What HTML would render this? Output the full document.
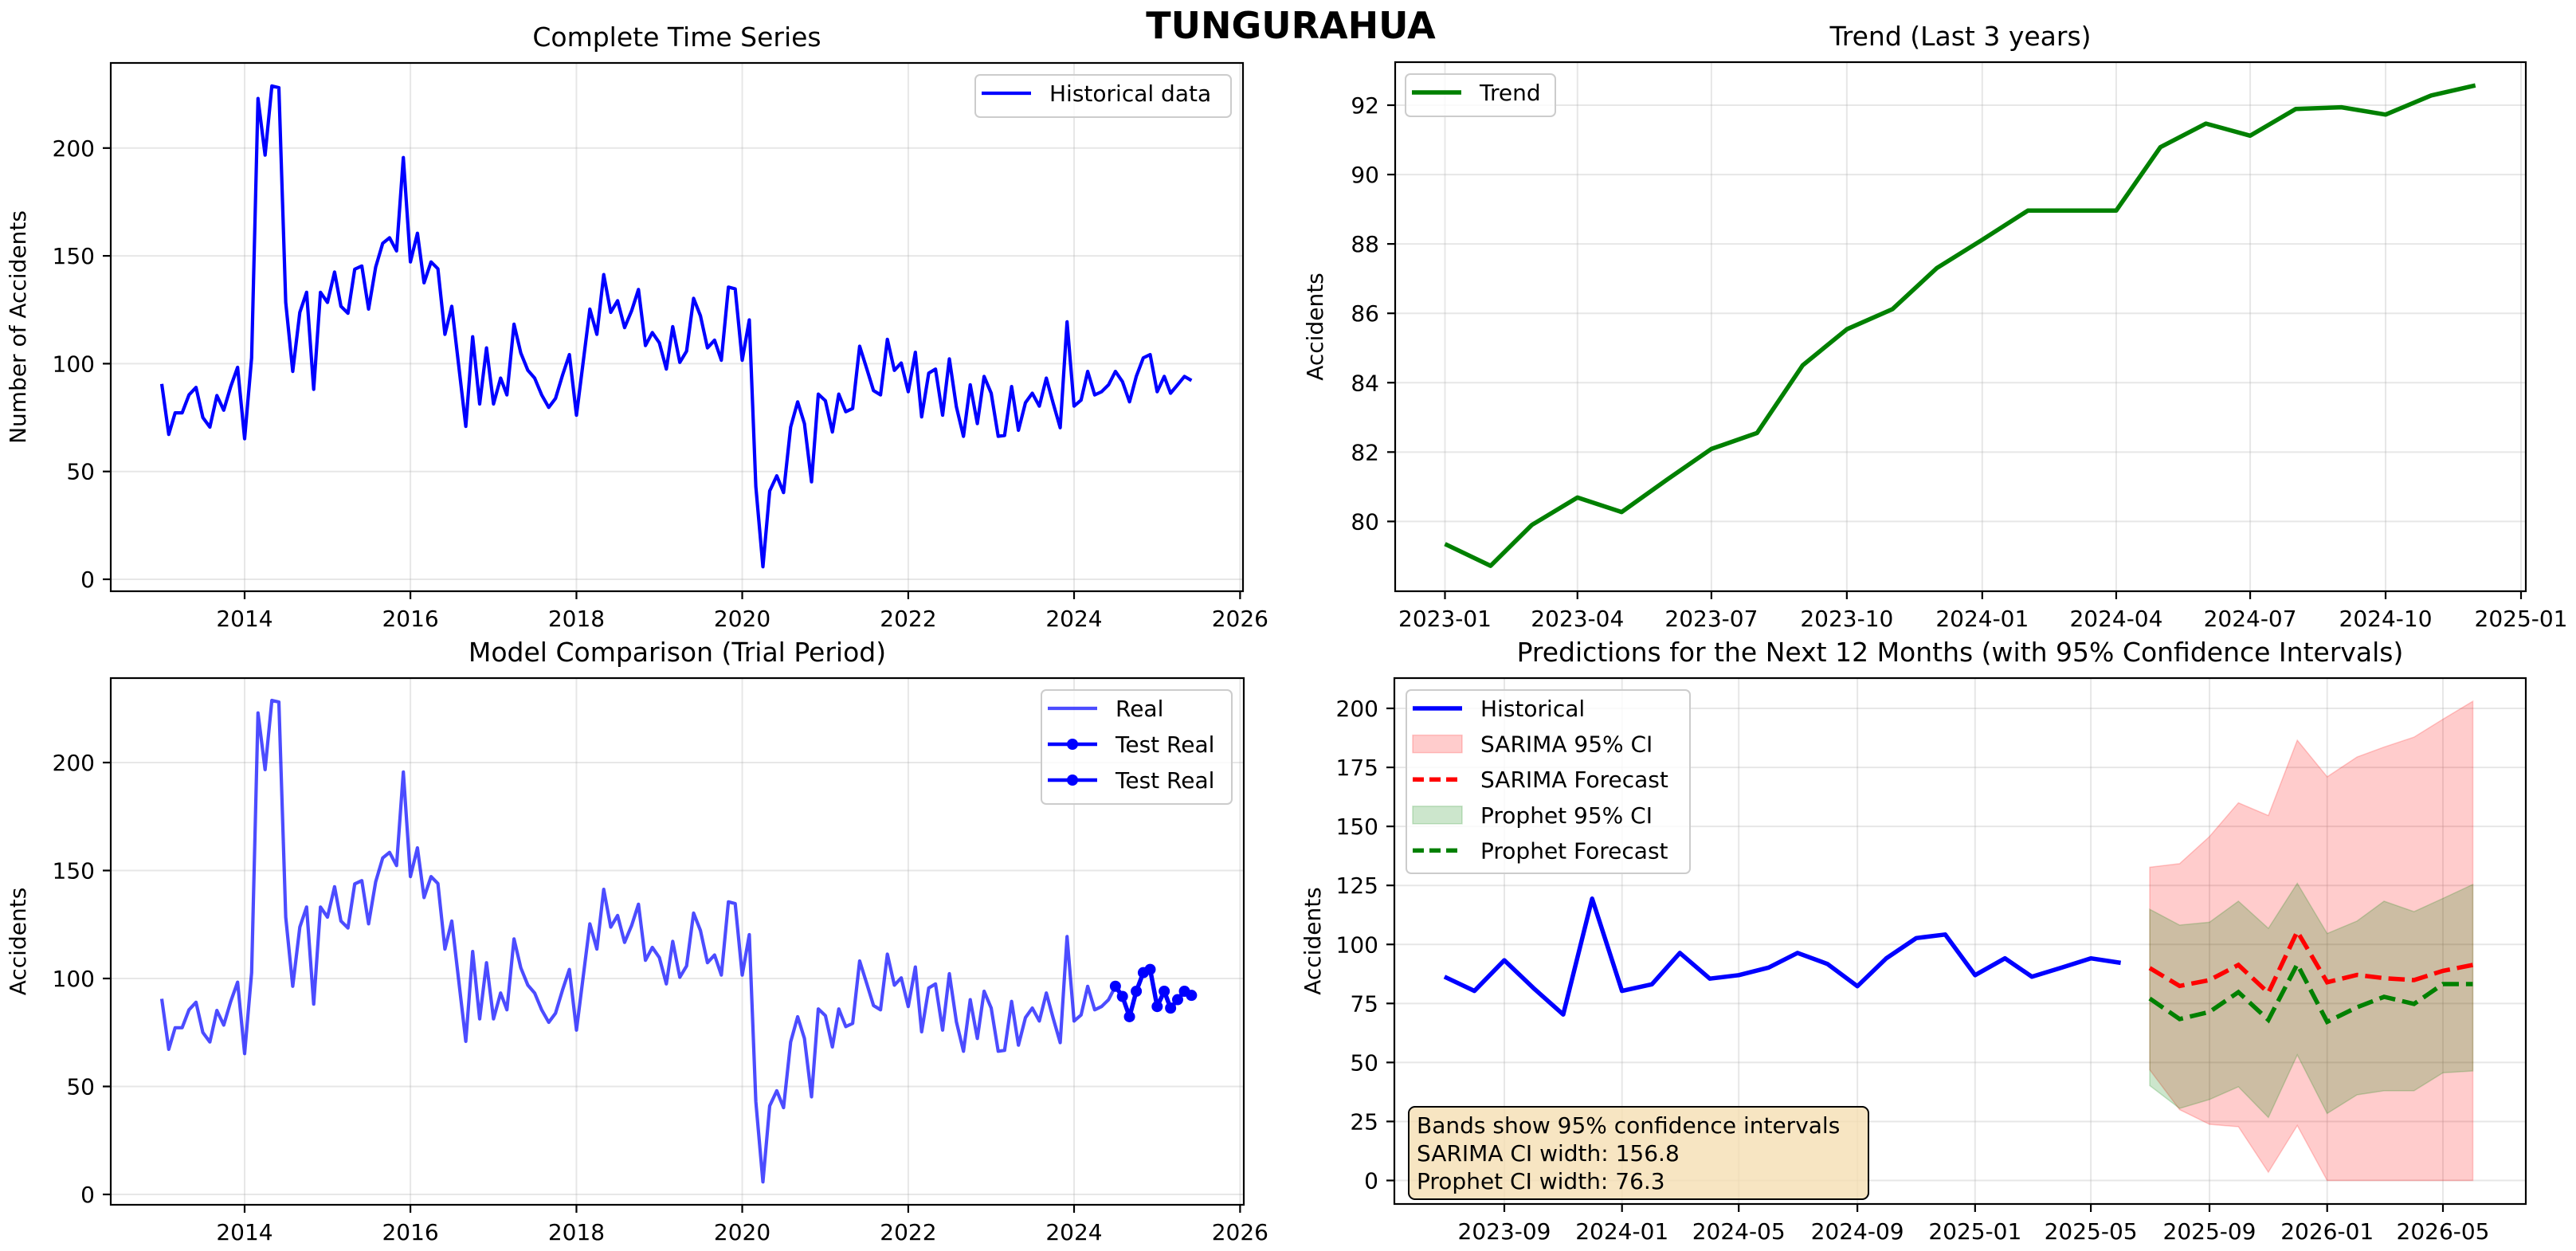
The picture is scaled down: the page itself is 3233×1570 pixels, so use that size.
<!DOCTYPE html>
<html><head><meta charset="utf-8"><style>
html,body{margin:0;padding:0;background:#fff;}
svg text{font-family:"DejaVu Sans","Liberation Sans",sans-serif;fill:#000;}
</style></head><body>
<svg id="fig" xmlns="http://www.w3.org/2000/svg" width="3233" height="1565" viewBox="0 0 3233 1565">
<rect width="3233" height="1565" fill="#fff"/>
<text x="1620" y="48" font-size="46" font-weight="bold" text-anchor="middle">TUNGURAHUA</text>
</svg>
<script>
// ---------- DATA ----------
const seriesStart = [2013, 1];
const accidents = [
90.6,67.2,77.2,77.2,85.5,89,75,70.6,85.2,78.4,89.4,98.3,
65.2,102.7,223,196.7,228.8,228,128.4,96.4,123.8,133.1,88.1,133.1,
128.4,142.5,126.6,123.4,143.8,145.3,125.3,144.8,155.8,158.4,152.3,195.6,
147.2,160.5,137.5,147.2,144,113.6,126.6,98.8,70.9,112.5,81.3,107.3,
81.3,93.3,85.5,118.3,105,96.9,93.3,85.5,79.7,83.9,94.8,104.2,
76.1,101.9,125.3,113.6,141.3,123.8,129.2,116.7,124.5,134.4,108.4,114.4,
109.7,97.5,117.2,100.6,105.8,130.3,122.2,107.3,110.9,101.6,135.5,134.7,
101.6,120.3,43,5.8,41,48,40.2,70.6,82.3,72.2,45.2,85.9,
82.8,68.3,85.9,77.7,79.2,108.1,98,87.5,85.5,111.3,96.9,100.3,
87,105.3,75.3,95.6,97.5,76.1,102.2,80,66.3,90.2,72.2,94.1,
86.3,66.3,66.7,89.4,69.1,81.9,86.3,80.3,93.3,81.6,70.3,119.4,
80.3,83.1,96.4,85.5,87,90.2,96.4,91.7,82.3,94.1,102.7,104.2,
87,94.1,86.3,90.2,94.1,92.2];
const testCount = 12;
const trendStart = [2023, 1];
const trendValues = [79.35,78.72,79.9,80.69,80.27,81.21,82.09,82.55,84.5,85.54,86.12,87.3,
88.12,88.96,88.96,88.96,90.79,91.47,91.12,91.89,91.94,91.73,92.28,92.57];
const histCount = 24;
const forecastStart = [2025, 7];
const sarimaForecast = [90,82.4,84.9,91.3,79.5,105.5,84,87.1,85.7,84.9,88.8,91.3];
const sarimaUpper = [132.7,134.2,145.7,160,154.6,186.5,171,179.4,183.6,187.8,195.4,203];
const sarimaLower = [46.9,30,23.8,22.8,3.5,23.3,0,0,0,0,0,0];
const prophetForecast = [77.1,68.4,71.4,79.8,68,91.6,67.2,73.4,77.8,74.8,83.2,83.2];
const prophetUpper = [114.9,108.2,109.4,118.3,106.8,125.9,104.6,109.9,118.3,113.9,119.5,125.4];
const prophetLower = [40.2,30.5,34.3,39.7,26.7,53.2,28.4,36.3,38,38,45.6,46.4];
const yearTicks = [2014,2016,2018,2020,2022,2024,2026];
const countTicks = [0,50,100,150,200];
const trendXTicks = ["2023-01","2023-04","2023-07","2023-10","2024-01","2024-04","2024-07","2024-10","2025-01"];
const trendYTicks = [80,82,84,86,88,90,92];
const fcXTicks = ["2023-09","2024-01","2024-05","2024-09","2025-01","2025-05","2025-09","2026-01","2026-05"];
const fcYTicks = [0,25,50,75,100,125,150,175,200];
const ciText = ["Bands show 95% confidence intervals","SARIMA CI width: 156.8","Prophet CI width: 76.3"];

// ---------- HELPERS ----------
const NS = "http://www.w3.org/2000/svg";
const svg = document.getElementById('fig');
function D(y,m){return Date.UTC(y,m-1,1)/864e5;}
function monthDate(start,i){let m=start[1]-1+i;return D(start[0]+Math.floor(m/12),(m%12)+1);}
function lin(d0,d1,r0,r1){return v=>r0+(v-d0)*(r1-r0)/(d1-d0);}
function el(tag,attrs,parent){const e=document.createElementNS(NS,tag);for(const k in attrs)e.setAttribute(k,attrs[k]);(parent||svg).appendChild(e);return e;}
function txt(s,attrs,parent){const e=el('text',attrs,parent);e.textContent=s;return e;}
function pathFrom(xs,ys){return xs.map((x,i)=>(i?'L':'M')+x.toFixed(1)+','+ys[i].toFixed(1)).join('');}

function panel(id,box,xs,ys,xticks,yticks,title,ylabel,ylabelX){
  const g=el('g',{});
  
  
  const cp=el('clipPath',{id:id+'-clip'},g);
  el('rect',{x:box.x0,y:box.y0,width:box.x1-box.x0,height:box.y1-box.y0},cp);
  const grid=el('g',{},g);
  
  
  xticks.forEach(t=>{const x=xs(t.v);el('line',{x1:x,x2:x,y1:box.y0,y2:box.y1,stroke:'#b0b0b0','stroke-opacity':0.3,'stroke-width':2},grid);});
  yticks.forEach(t=>{const y=ys(t.v);el('line',{x1:box.x0,x2:box.x1,y1:y,y2:y,stroke:'#b0b0b0','stroke-opacity':0.3,'stroke-width':2},grid);});
  const plot=el('g',{'clip-path':'url(#'+id+'-clip)'},g);
  const ax=el('g',{},g);
  
  
  el('rect',{x:box.x0,y:box.y0,width:box.x1-box.x0,height:box.y1-box.y0,fill:'none',stroke:'#000','stroke-width':2.2},ax);
  xticks.forEach(t=>{const x=xs(t.v);el('line',{x1:x,x2:x,y1:box.y1,y2:box.y1+10,stroke:'#000','stroke-width':2.2},ax);
    const l=txt(t.l,{x:x,y:box.y1+44,'font-size':28,'text-anchor':'middle'},ax);
    
    });
  yticks.forEach(t=>{const y=ys(t.v);el('line',{x1:box.x0-10,x2:box.x0,y1:y,y2:y,stroke:'#000','stroke-width':2.2},ax);
    const l=txt(t.l,{x:box.x0-20,y:y+10,'font-size':28,'text-anchor':'end'},ax);
    
    });
  const tt=txt(title,{x:(box.x0+box.x1)/2,y:box.y0-21,'font-size':33,'text-anchor':'middle'},g);
  
  
  const cy=(box.y0+box.y1)/2;
  const yl=txt(ylabel,{x:ylabelX,y:cy,'font-size':28,'text-anchor':'middle',transform:'rotate(-90 '+ylabelX+' '+cy+')'},g);
  
  
  return plot;
}
function legend(id,x,y,w,h,rowH,entries){
  const g=el('g',{});
  
  
  el('rect',{x:x,y:y,width:w,height:h,rx:6,fill:'#fff','fill-opacity':0.8,stroke:'#cccccc','stroke-width':2},g);
  entries.forEach((e,i)=>{
    const cy=y+23+i*rowH;
    const eg=el('g',{},g);
    
    
    if(e.type==='patch'){el('rect',{x:x+8,y:cy-11,width:62,height:22,fill:e.fill,stroke:e.stroke,'stroke-width':1.5},eg);}
    else{el('line',{x1:x+8,x2:x+70,y1:cy,y2:cy,stroke:e.color,'stroke-width':e.w,'stroke-dasharray':e.dash||'none','stroke-opacity':e.op||1},eg);
      if(e.marker)el('circle',{cx:x+39,cy:cy,r:7,fill:e.color},eg);}
    txt(e.label,{x:x+93,y:cy+10,'font-size':28},eg);
  });
}

// ---------- PANEL 1 ----------
(function(){
  const box={x0:139,x1:1560,y0:79,y1:742};
  const xs=lin(D(2014,1),D(2024,1),307,1348);
  const ys=lin(0,200,727,185.8);
  const p=panel('complete-series-panel',box,xs,ys,yearTicks.map(y=>({v:D(y,1),l:String(y)})),countTicks.map(v=>({v:v,l:String(v)})),'Complete Time Series','Number of Accidents',32);
  const X=accidents.map((v,i)=>xs(monthDate(seriesStart,i))),Y=accidents.map(v=>ys(v));
  const line=el('path',{d:pathFrom(X,Y),fill:'none',stroke:'#0000ff','stroke-width':4.2,'stroke-linejoin':'round'},p);
  
  
  legend('complete-series-legend',1224,94,321,53,45,[{label:'Historical data',color:'#0000ff',w:4.2}]);
})();

// ---------- PANEL 2 ----------
(function(){
  const box={x0:1751,x1:3170,y0:78,y1:742};
  const xs=lin(D(2023,1),D(2025,1),1813.5,3164);
  const ys=lin(80,92,654.4,132);
  const p=panel('trend-panel',box,xs,ys,trendXTicks.map(s=>{const a=s.split('-');return{v:D(+a[0],+a[1]),l:s};}),trendYTicks.map(v=>({v:v,l:String(v)})),'Trend (Last 3 years)','Accidents',1660);
  const X=trendValues.map((v,i)=>xs(monthDate(trendStart,i))),Y=trendValues.map(v=>ys(v));
  const line=el('path',{d:pathFrom(X,Y),fill:'none',stroke:'#008000','stroke-width':5.5,'stroke-linejoin':'round'},p);
  
  
  legend('trend-legend',1764,93,188,53,45,[{label:'Trend',color:'#008000',w:5.5}]);
})();

// ---------- PANEL 3 ----------
(function(){
  const box={x0:139,x1:1561,y0:851,y1:1512};
  const xs=lin(D(2014,1),D(2024,1),307,1348);
  const ys=lin(0,100,1499,1228);
  const p=panel('model-comparison-panel',box,xs,ys,yearTicks.map(y=>({v:D(y,1),l:String(y)})),countTicks.map(v=>({v:v,l:String(v)})),'Model Comparison (Trial Period)','Accidents',32);
  const X=accidents.map((v,i)=>xs(monthDate(seriesStart,i))),Y=accidents.map(v=>ys(v));
  const real=el('path',{d:pathFrom(X,Y),fill:'none',stroke:'#0000ff','stroke-opacity':0.7,'stroke-width':4.2,'stroke-linejoin':'round'},p);
  
  
  const n=accidents.length, s=n-testCount;
  const tx=X.slice(s),ty=Y.slice(s);
  const test=el('path',{d:pathFrom(tx,ty),fill:'none',stroke:'#0000ff','stroke-width':5.5,'stroke-linejoin':'round'},p);
  
  
  tx.forEach((x,i)=>{const c=el('circle',{cx:x,cy:ty[i],r:7,fill:'#0000ff'},p);
    
    });
  legend('model-comparison-legend',1307,866,239,143,45,[
    {label:'Real',color:'#0000ff',w:4.2,op:0.7},
    {label:'Test Real',color:'#0000ff',w:4.5,marker:true},
    {label:'Test Real',color:'#0000ff',w:4.5,marker:true}]);
})();

// ---------- PANEL 4 ----------
(function(){
  const box={x0:1750,x1:3170,y0:851,y1:1511};
  const xs=lin(D(2023,9),D(2026,5),1888,3066);
  const ys=lin(0,200,1481.5,889);
  const p=panel('forecast-panel',box,xs,ys,fcXTicks.map(s=>{const a=s.split('-');return{v:D(+a[0],+a[1]),l:s};}),fcYTicks.map(v=>({v:v,l:String(v)})),'Predictions for the Next 12 Months (with 95% Confidence Intervals)','Accidents',1657);
  const hist=accidents.slice(accidents.length-histCount);
  const n=accidents.length;
  const HX=hist.map((v,i)=>xs(monthDate(seriesStart,n-histCount+i))),HY=hist.map(v=>ys(v));
  const FX=sarimaForecast.map((v,i)=>xs(monthDate(forecastStart,i)));
  function band(up,lo,fill,stroke,name){
    const d=pathFrom(FX,up.map(ys))+FX.slice().reverse().map((x,i)=>'L'+x.toFixed(1)+','+ys(lo[lo.length-1-i]).toFixed(1)).join('')+'Z';
    const b=el('path',{d:d,fill:fill,stroke:stroke,'stroke-width':1.5},p);
    
    
  }
  band(sarimaUpper,sarimaLower,'rgba(255,0,0,0.2)','rgba(255,0,0,0.2)','sarima-ci-band');
  band(prophetUpper,prophetLower,'rgba(0,128,0,0.2)','rgba(0,128,0,0.2)','prophet-ci-band');
  const h=el('path',{d:pathFrom(HX,HY),fill:'none',stroke:'#0000ff','stroke-width':5.5,'stroke-linejoin':'round'},p);
  
  
  const sf=el('path',{d:pathFrom(FX,sarimaForecast.map(ys)),fill:'none',stroke:'#ff0000','stroke-width':5.5,'stroke-dasharray':'20.5 8.9'},p);
  
  
  const pf=el('path',{d:pathFrom(FX,prophetForecast.map(ys)),fill:'none',stroke:'#008000','stroke-width':5.5,'stroke-dasharray':'20.5 8.9'},p);
  
  
  legend('forecast-legend',1765,866,356,230,44.6,[
    {label:'Historical',color:'#0000ff',w:5.5},
    {type:'patch',label:'SARIMA 95% CI',fill:'rgba(255,0,0,0.2)',stroke:'rgba(255,0,0,0.2)'},
    {label:'SARIMA Forecast',color:'#ff0000',w:5.5,dash:'14 7'},
    {type:'patch',label:'Prophet 95% CI',fill:'rgba(0,128,0,0.2)',stroke:'rgba(0,128,0,0.2)'},
    {label:'Prophet Forecast',color:'#008000',w:5.5,dash:'14 7'}]);
  const tb=el('g',{});
  
  
  el('rect',{x:1768,y:1389,width:577,height:116,rx:8,fill:'rgba(245,222,179,0.8)',stroke:'#000','stroke-width':2},tb);
  ciText.forEach((s,i)=>txt(s,{x:1778,y:1422+i*35,'font-size':28},tb));
})();
</script>
</body></html>
